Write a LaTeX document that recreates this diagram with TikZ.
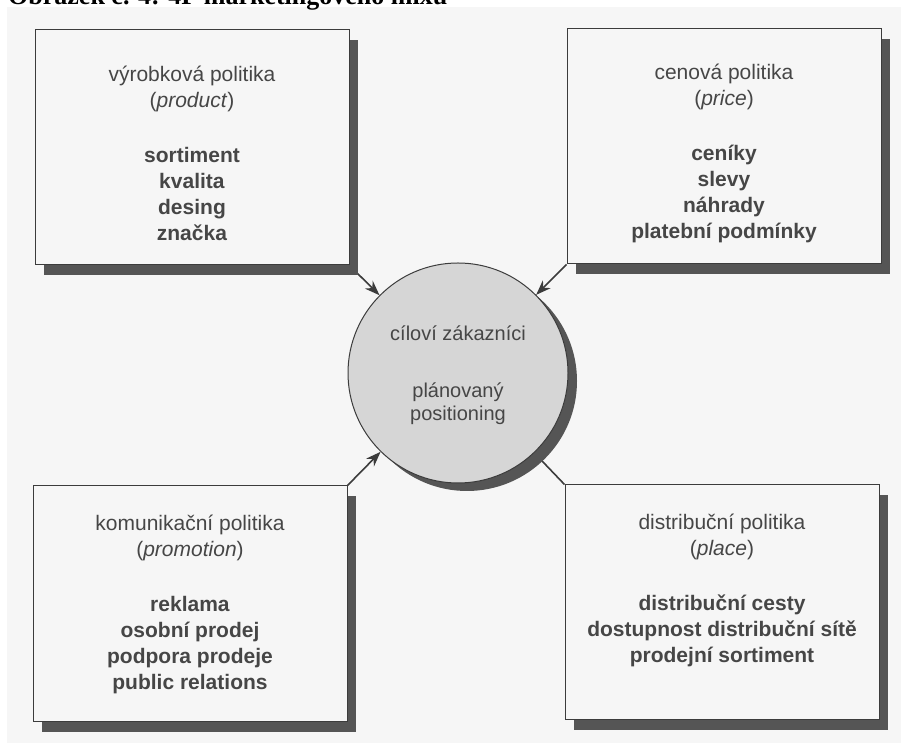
\documentclass[tikz,border=0pt]{standalone}
\usepackage{fontspec}
\setmainfont{Liberation Sans}
\newfontfamily\captionserif{Liberation Serif}
\usetikzlibrary{arrows.meta,shadows,backgrounds}
\definecolor{mixpaper}{RGB}{246,246,246}
\definecolor{mixline}{RGB}{60,60,60}
\definecolor{mixshadow}{RGB}{85,85,85}
\definecolor{mixtext}{RGB}{70,70,70}
\definecolor{mixdisc}{RGB}{214,214,214}

\begin{document}
\begin{tikzpicture}[x=1pt, y=1pt,
    policybox/.style={draw=mixline, line width=1pt, fill=mixpaper,
        minimum width=314pt, minimum height=235pt, inner sep=0pt,
        general shadow={fill=mixshadow, shadow xshift=9pt, shadow yshift=-10pt}},
    policytext/.style={anchor=north, align=center, text=mixtext, inner sep=0pt,
        font=\fontsize{21}{26}\selectfont},
    targetdisc/.style={circle, draw=mixline, line width=1pt, fill=mixdisc,
        minimum size=220pt, inner sep=0pt, align=center, text=mixtext,
        font=\fontsize{20}{23}\selectfont,
        general shadow={fill=mixshadow, shadow xshift=9pt, shadow yshift=-8pt}},
    mixarrow/.style={-{Stealth[length=15pt,width=11pt]}, line width=1.6pt, draw=mixline},
    mixlink/.style={line width=1.6pt, draw=mixline}]

    \useasboundingbox (0,0) rectangle (901,743);

    % Caption (cut off at the top edge)
    \node[anchor=base west, inner sep=0pt, font=\captionserif\bfseries\fontsize{26}{30}\selectfont] (caption) at (8,738) {Obrázek č. 4: 4P marketingového mixu};

    % The four policy boxes
    \node[policybox] (product) at (192,595.5) {};
    \node[policybox] (price) at (724,596.5) {};
    \node[policybox, minimum height=236pt] (promotion) at (190,139) {};
    \node[policybox] (place) at (722,140.5) {};

    \node[policytext] (producttext) at ([yshift=-36pt]product.north) {výrobková politika\\(\textit{product})\\[29pt]\textbf{sortiment}\\\textbf{kvalita}\\\textbf{desing}\\\textbf{značka}};
    \node[policytext] (pricetext) at ([yshift=-35pt]price.north) {cenová politika\\(\textit{price})\\[29pt]\textbf{ceníky}\\\textbf{slevy}\\\textbf{náhrady}\\\textbf{platební podmínky}};
    \node[policytext] (promotiontext) at ([yshift=-29pt]promotion.north) {komunikační politika\\(\textit{promotion})\\[29pt]\textbf{reklama}\\\textbf{osobní prodej}\\\textbf{podpora prodeje}\\\textbf{public relations}};
    \node[policytext] (placetext) at ([yshift=-29pt]place.north) {distribuční politika\\(\textit{place})\\[29pt]\textbf{distribuční cesty}\\\textbf{dostupnost distribuční sítě}\\\textbf{prodejní sortiment}};

    % Target customers in the middle
    \node[targetdisc] (target) at (458,370) {\\[-4pt]cíloví zákazníci\\[34pt]plánovaný\\positioning};

    % Paper and connectors behind everything
    \begin{scope}[on background layer]
        \fill[white] (0,0) rectangle (901,743);
        \fill[mixpaper] (7,0) rectangle (901,736);
        \draw[mixarrow] (product.south east) -- (target);
        \draw[mixarrow] (price.south west) -- (target);
        \draw[mixarrow] (promotion.north east) -- (target);
        \draw[mixlink] (place.north west) -- (target);
    \end{scope}
\end{tikzpicture}
\end{document}
